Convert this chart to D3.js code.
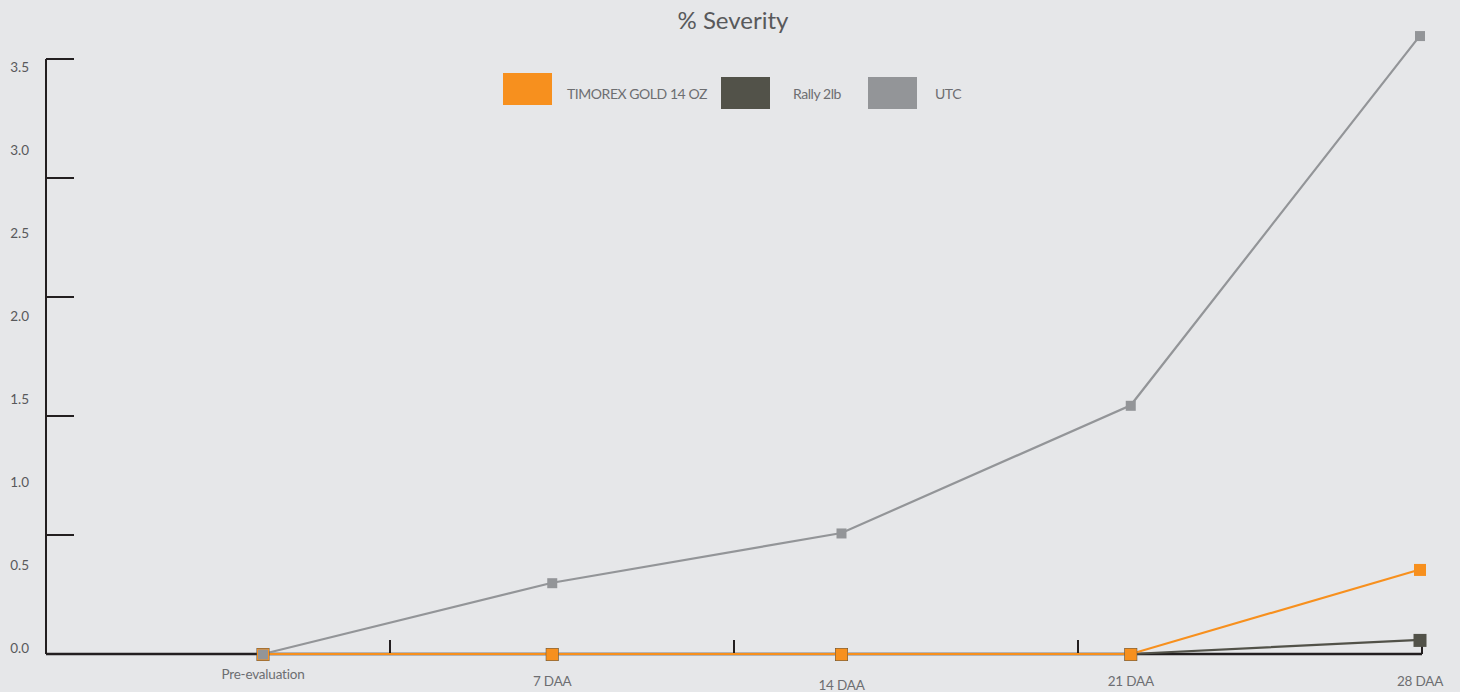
<!DOCTYPE html>
<html><head><meta charset="utf-8">
<script src="https://cdn.jsdelivr.net/npm/d3@7"></script>
<style>
html,body{margin:0;padding:0;background:#e6e7e9;}
svg{display:block;font-family:Lato,"Open Sans",sans-serif;}
</style></head>
<body>
<svg id="chart" width="1460" height="692"></svg>
<script>
const categories = ["Pre-evaluation", "7 DAA", "14 DAA", "21 DAA", "28 DAA"];
const seriesNames = ["TIMOREX GOLD 14 OZ", "Rally 2lb", "UTC"];
const timorex = [0, 0, 0, 0, 0.51];
const rally = [0, 0, 0, 0, 0.085];
const utc = [0, 0.43, 0.73, 1.5, 3.73];
const yTickLabels = [0, 0.5, 1.0, 1.5, 2.0, 2.5, 3.0, 3.5];
const axisTickSteps = [0, 1, 2, 3, 4, 5];
const xTickSteps = [1, 2, 3, 4];
const labelDy = [-7, 0, 4, 0, 0];
const colors = ["#f7901e", "#525249", "#939598"];

const svg = d3.select("#chart");
const x = d3.scalePoint().domain(categories).range([263, 1420]);
const y = d3.scaleLinear().domain([0, 3.5]).range([654, 654 - 3.5 * 165.8]);
const yTickScale = d3.scaleLinear().domain([0, 5]).range([654, 59]);
const xTickScale = d3.scaleLinear().domain([0, 4]).range([46, 1422]);

// title
svg.append("text").attr("x", 733).attr("y", 29).attr("text-anchor", "middle")
  .attr("fill", "#58595b").attr("font-size", 24).text("% Severity");

// y labels
svg.append("g").selectAll("text").data(yTickLabels).join("text")
  .attr("x", 29).attr("y", d => y(d) - 6).attr("dy", "0.35em")
  .attr("text-anchor", "end").attr("fill", "#58595b").attr("font-size", 13.5)
  .text(d => d3.format(".1f")(d));

// axes
const axisCol = "#231f20";
svg.append("line").attr("x1", xTickScale(0)).attr("x2", xTickScale(0))
  .attr("y1", yTickScale(5)).attr("y2", yTickScale(0)).attr("stroke", axisCol).attr("stroke-width", 2);
svg.append("g").selectAll("line").data(axisTickSteps).join("line")
  .attr("x1", xTickScale(0)).attr("x2", xTickScale(0) + 28)
  .attr("y1", d => yTickScale(d)).attr("y2", d => yTickScale(d))
  .attr("stroke", axisCol).attr("stroke-width", 2);
svg.append("line").attr("x1", xTickScale(0)).attr("x2", xTickScale(4))
  .attr("y1", y(0)).attr("y2", y(0)).attr("stroke", axisCol).attr("stroke-width", 2.5);
svg.append("g").selectAll("line").data(xTickSteps).join("line")
  .attr("x1", d => xTickScale(d)).attr("x2", d => xTickScale(d))
  .attr("y1", y(0) - 14).attr("y2", y(0))
  .attr("stroke", axisCol).attr("stroke-width", 2);

// x labels
svg.append("g").selectAll("text").data(categories).join("text")
  .attr("x", d => x(d)).attr("y", (d, i) => 686 + labelDy[i])
  .attr("text-anchor", "middle").attr("fill", "#6d6e71").attr("font-size", 13.5)
  .attr("letter-spacing", -0.2)
  .text(d => d);

// lines
const series = [
  {name: seriesNames[2], values: utc, color: colors[2], size: 10},
  {name: seriesNames[1], values: rally, color: colors[1], size: 13},
  {name: seriesNames[0], values: timorex, color: colors[0], size: 12}
];
const line = d3.line().x((d, i) => x(categories[i])).y(d => y(d));
svg.append("g").selectAll("path").data(series).join("path")
  .attr("d", s => line(s.values)).attr("fill", "none")
  .attr("stroke", s => s.color).attr("stroke-width", 2.2);

// markers: rally, timorex, utc
const markerOrder = [series[1], series[2], series[0]];
markerOrder.forEach(s => {
  svg.append("g").selectAll("rect").data(s.values).join("rect")
    .attr("x", (d, i) => x(categories[i]) - s.size / 2)
    .attr("y", d => y(d) - s.size / 2 + 0.5)
    .attr("width", s.size).attr("height", s.size)
    .attr("fill", s.color);
});

// legend
const legendItems = [
  {name: seriesNames[0], color: colors[0], sx: 503, sy: 73, tx: 567},
  {name: seriesNames[1], color: colors[1], sx: 721, sy: 77, tx: 793},
  {name: seriesNames[2], color: colors[2], sx: 868, sy: 77, tx: 935}
];
const lg = svg.append("g").selectAll("g").data(legendItems).join("g");
lg.append("rect").attr("x", d => d.sx).attr("y", d => d.sy).attr("width", 49).attr("height", 32)
  .attr("fill", d => d.color);
lg.append("text").attr("x", d => d.tx).attr("y", 94).attr("dy", "0.35em")
  .attr("fill", "#6d6e71").attr("font-size", 14).attr("letter-spacing", -0.45).text(d => d.name);
</script>
</body></html>
